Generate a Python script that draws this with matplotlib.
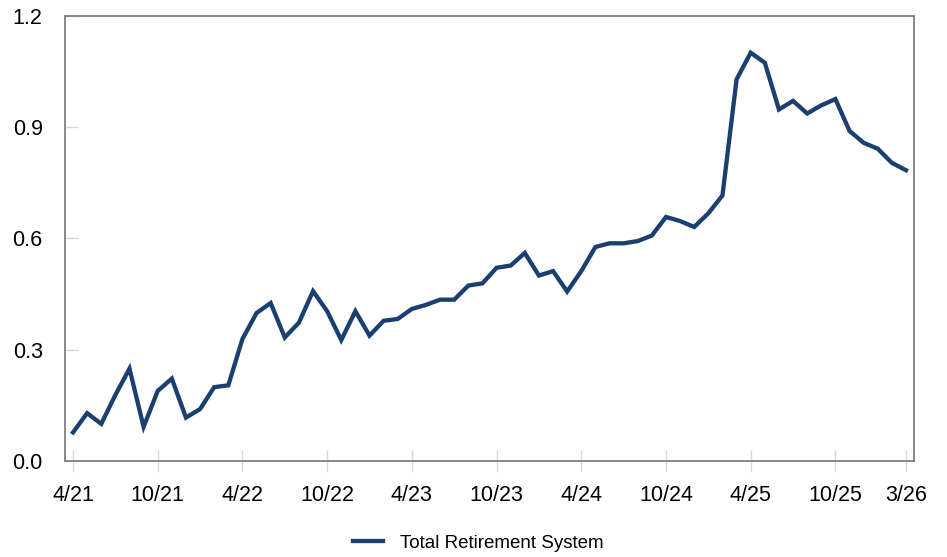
import matplotlib
matplotlib.use("Agg")
import matplotlib.pyplot as plt
import numpy as np

plt.rcParams['font.family'] = ['Liberation Sans Narrow', 'Liberation Sans', 'DejaVu Sans']

# monthly values, 4/21 .. 3/26
values = [0.077, 0.129, 0.100, 0.178, 0.249, 0.092, 0.189, 0.222, 0.117, 0.140,
          0.199, 0.204, 0.329, 0.399, 0.426, 0.333, 0.373, 0.458, 0.404, 0.326,
          0.404, 0.338, 0.378, 0.383, 0.410, 0.421, 0.435, 0.435, 0.473, 0.479,
          0.521, 0.527, 0.561, 0.500, 0.512, 0.457, 0.512, 0.577, 0.587, 0.587,
          0.593, 0.608, 0.658, 0.647, 0.631, 0.668, 0.716, 1.029, 1.101, 1.074,
          0.948, 0.971, 0.937, 0.959, 0.976, 0.890, 0.858, 0.842, 0.804, 0.784]
tick_pos = [0, 6, 12, 18, 24, 30, 36, 42, 48, 54, 59]
tick_labels = ['4/21', '10/21', '4/22', '10/22', '4/23', '10/23', '4/24', '10/24',
               '4/25', '10/25', '3/26']
yticks = [0.0, 0.3, 0.6, 0.9, 1.2]
series_name = 'Total Retirement System'

fig = plt.figure(figsize=(9.47, 5.57), dpi=100)
ax = fig.add_axes([0.0686, 0.1724, 0.8966, 0.7989])

x = np.arange(len(values))
ax.plot(x, values, color='#1B3F6F', lw=3.1, label=series_name, solid_joinstyle='miter')

ax.set_xlim(-0.57, 59.57)
ax.set_ylim(0, 1.2)
ax.set_yticks(yticks)
ax.set_yticklabels(['%.1f' % v for v in yticks])
ax.set_xticks(tick_pos)
ax.set_xticklabels(tick_labels)

for s in ax.spines.values():
    s.set_color('#808080')
    s.set_linewidth(1.3)

ax.tick_params(axis='y', direction='in', length=9, width=1, color='#D9D9D9',
               labelsize=15.5, pad=16, labelcolor='black')
ax.tick_params(axis='x', direction='inout', length=16, width=1, color='#D9D9D9',
               labelsize=15.5, pad=9, labelcolor='black')

leg = fig.legend(loc='center', bbox_to_anchor=(0.505, 0.025), frameon=False,
                 fontsize=13.5, handlelength=1.6, handletextpad=0.9)

fig.savefig('out.png', dpi=100)
